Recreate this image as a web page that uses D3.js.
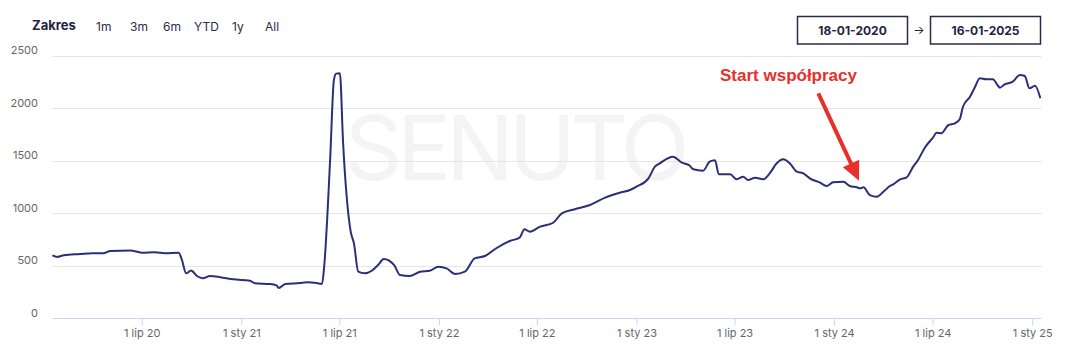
<!DOCTYPE html>
<html>
<head>
<meta charset="utf-8">
<script src="https://cdn.jsdelivr.net/npm/d3@7"></script>
<style>
  body { margin: 0; background: #fff; }
  svg { display: block; font-family: Inter, "Noto Sans", sans-serif; }
</style>
</head>
<body>
<svg width="1080" height="353"></svg>
<script>
// visibility readings, roughly weekly/biweekly
const dates = [
  '2020-01-18', '2020-01-27', '2020-02-08', '2020-03-09', '2020-03-31', '2020-04-21',
  '2020-05-04', '2020-06-10', '2020-07-01', '2020-07-25', '2020-08-13', '2020-09-07',
  '2020-09-13', '2020-09-21', '2020-09-30', '2020-10-11', '2020-10-22', '2020-11-04',
  '2020-11-23', '2020-12-17', '2021-01-17', '2021-01-26', '2021-02-23', '2021-03-07',
  '2021-03-11', '2021-03-23', '2021-04-19', '2021-05-02', '2021-05-26', '2021-05-30',
  '2021-06-03', '2021-06-14', '2021-06-21', '2021-06-25', '2021-07-02', '2021-07-08',
  '2021-07-22', '2021-07-28', '2021-08-05', '2021-08-17', '2021-08-30', '2021-09-11',
  '2021-09-21', '2021-10-10', '2021-10-21', '2021-11-08', '2021-11-27', '2021-12-15',
  '2021-12-31', '2022-01-15', '2022-01-31', '2022-02-18', '2022-03-08', '2022-03-27',
  '2022-04-17', '2022-05-12', '2022-05-30', '2022-06-08', '2022-06-18', '2022-07-07',
  '2022-07-31', '2022-08-16', '2022-09-09', '2022-10-07', '2022-11-04', '2022-12-01',
  '2022-12-20', '2023-01-01', '2023-01-23', '2023-02-04', '2023-02-13', '2023-03-09',
  '2023-03-26', '2023-04-09', '2023-04-16', '2023-05-04', '2023-05-16', '2023-05-26',
  '2023-06-02', '2023-06-23', '2023-07-05', '2023-07-17', '2023-07-26', '2023-08-08',
  '2023-08-23', '2023-09-04', '2023-09-17', '2023-09-29', '2023-10-11', '2023-10-24',
  '2023-11-05', '2023-11-17', '2023-12-06', '2023-12-18', '2023-12-30', '2024-01-18',
  '2024-01-30', '2024-02-12', '2024-02-18', '2024-02-24', '2024-03-07', '2024-03-20',
  '2024-04-01', '2024-04-13', '2024-04-19', '2024-05-02', '2024-05-14', '2024-05-26',
  '2024-06-04', '2024-06-17', '2024-07-02', '2024-07-08', '2024-07-17', '2024-07-30',
  '2024-08-11', '2024-08-20', '2024-08-26', '2024-09-08', '2024-09-17', '2024-09-26',
  '2024-10-08', '2024-10-20', '2024-10-30', '2024-11-02', '2024-11-11', '2024-11-26',
  '2024-12-09', '2024-12-18', '2024-12-27', '2025-01-06', '2025-01-16'
];
const values = [
  600, 585, 600, 612, 620, 619,
  642, 646, 625, 629, 620, 625,
  560, 428, 455, 403, 381, 403,
  392, 371, 358, 333, 327, 314,
  289, 327, 336, 343, 330, 327,
  492, 1508, 2270, 2330, 2335, 1667,
  825, 714, 444, 428, 453, 510,
  565, 508, 412, 403, 444, 453,
  492, 476, 422, 444, 571, 593,
  667, 736, 768, 848, 825, 873,
  910, 1000, 1038, 1079, 1149, 1196,
  1222, 1253, 1333, 1444, 1476, 1539,
  1482, 1455, 1419, 1406, 1491, 1505,
  1371, 1371, 1324, 1349, 1317, 1339,
  1324, 1381, 1476, 1514, 1476, 1396,
  1381, 1333, 1292, 1260, 1295, 1301,
  1260, 1248, 1238, 1248, 1174, 1158,
  1206, 1260, 1276, 1324, 1343, 1444,
  1508, 1629, 1724, 1768, 1762, 1841,
  1857, 1895, 2015, 2110, 2200, 2286,
  2276, 2276, 2212, 2196, 2228, 2254,
  2317, 2308, 2190, 2215, 2095
];
const yTicks = [0, 500, 1000, 1500, 2000, 2500];
const xTickDates = ['2020-07-01', '2021-01-01', '2021-07-01', '2022-01-01', '2022-07-01',
  '2023-01-01', '2023-07-01', '2024-01-01', '2024-07-01', '2025-01-01'];
const monthNames = ['sty', 'lut', 'mar', 'kwi', 'maj', 'cze', 'lip', 'sie', 'wrz', 'paź', 'lis', 'gru'];
const rangeButtons = ['1m', '3m', '6m', 'YTD', '1y', 'All'];
const rangeFrom = '18-01-2020';
const rangeTo = '16-01-2025';
const annotation = { label: 'Start współpracy', date: '2024-02-16', value: 1310 };

const parse = d3.timeParse('%Y-%m-%d');
const data = dates.map((d, i) => ({ date: parse(d), value: values[i] }));

const svg = d3.select('svg');
const margin = { left: 52.4, right: 39.6, top: 55.8, bottom: 34.7 };
const width = 1080, height = 353;

const x = d3.scaleTime()
  .domain([parse('2020-01-18'), parse('2025-01-16')])
  .range([margin.left, width - margin.right]);
const y = d3.scaleLinear()
  .domain([0, 2500])
  .range([height - margin.bottom, margin.top]);

// watermark
svg.append('text')
  .attr('x', 517).attr('y', 180)
  .attr('text-anchor', 'middle')
  .attr('font-size', 90)
  .attr('font-weight', 400)
  .attr('fill', '#f4f4f6')
  .attr('textLength', 345)
  .text('SENUTO');

// grid
svg.append('g')
  .selectAll('line')
  .data(yTicks.filter(d => d > 0))
  .enter()
  .append('line')
  .attr('x1', margin.left)
  .attr('x2', width - margin.right + 1)
  .attr('y1', d => Math.round(y(d)) + 0.5)
  .attr('y2', d => Math.round(y(d)) + 0.5)
  .attr('stroke', '#e6e6e6');

// y labels
svg.append('g')
  .selectAll('text')
  .data(yTicks)
  .enter()
  .append('text')
  .attr('x', 38)
  .attr('y', d => y(d) - 1.5)
  .attr('text-anchor', 'end')
  .attr('font-size', 11)
  .attr('fill', '#666')
  .text(d => d);

// x axis
const xAxis = d3.axisBottom(x)
  .tickValues(xTickDates.map(parse))
  .tickSize(7)
  .tickPadding(4)
  .tickFormat(d => '1 ' + monthNames[d.getMonth()] + ' ' + String(d.getFullYear()).slice(2));

const gx = svg.append('g')
  .attr('transform', `translate(0,${Math.round(y(0)) + 0.5})`)
  .call(xAxis);
gx.select('.domain').attr('stroke', '#ccd6eb').attr('d', `M${margin.left},0H${width - margin.right + 1}`);
gx.selectAll('.tick line').attr('stroke', '#ccd6eb');
gx.selectAll('.tick text')
  .attr('font-size', 11)
  .attr('fill', '#666')
  .attr('font-family', 'Inter, "Noto Sans", sans-serif');

// line
const line = d3.line()
  .x(d => x(d.date))
  .y(d => y(d.value))
  .curve(d3.curveMonotoneX);

svg.append('path')
  .datum(data)
  .attr('fill', 'none')
  .attr('stroke', '#2b2f7a')
  .attr('stroke-width', 2)
  .attr('stroke-linejoin', 'round')
  .attr('d', line);

// header: range selector
svg.append('text')
  .attr('x', 32).attr('y', 30)
  .attr('font-size', 13)
  .attr('font-weight', 700)
  .attr('fill', '#25233f')
  .text('Zakres');

const btnX = [96, 130, 163, 194, 232, 265];
svg.append('g')
  .selectAll('text')
  .data(rangeButtons)
  .enter()
  .append('text')
  .attr('x', (d, i) => btnX[i])
  .attr('y', 31)
  .attr('font-size', 12)
  .attr('fill', '#2a2a45')
  .text(d => d);

// date inputs
const boxes = [{ x: 797.5, label: rangeFrom }, { x: 930.5, label: rangeTo }];
const box = svg.append('g').selectAll('g').data(boxes).enter().append('g');
box.append('rect')
  .attr('x', d => d.x).attr('y', 16.5)
  .attr('width', 110).attr('height', 27.5)
  .attr('fill', '#fff')
  .attr('stroke', '#2b2b45')
  .attr('stroke-width', 1.5);
box.append('text')
  .attr('x', d => d.x + 55).attr('y', 35)
  .attr('text-anchor', 'middle')
  .attr('font-size', 12)
  .attr('font-weight', 700)
  .attr('fill', '#25233f')
  .text(d => d.label);
svg.append('text')
  .attr('x', 919).attr('y', 34)
  .attr('text-anchor', 'middle')
  .attr('font-size', 12)
  .attr('fill', '#25233f')
  .text('→');

// annotation
const tip = [x(parse(annotation.date)), y(annotation.value)];
const start = [818.3, 93.3];
const dx = tip[0] - start[0], dy = tip[1] - start[1];
const len = Math.sqrt(dx * dx + dy * dy);
const ux = dx / len, uy = dy / len;
const headLen = 19, headW = 9;
const base = [tip[0] - ux * headLen, tip[1] - uy * headLen];

svg.append('line')
  .attr('x1', start[0]).attr('y1', start[1])
  .attr('x2', base[0] + ux * 2).attr('y2', base[1] + uy * 2)
  .attr('stroke', '#e8302a')
  .attr('stroke-width', 4);
svg.append('path')
  .attr('d', `M${tip[0]},${tip[1]}L${base[0] - uy * headW},${base[1] + ux * headW}L${base[0] + uy * headW},${base[1] - ux * headW}Z`)
  .attr('fill', '#e8302a');

svg.append('text')
  .attr('x', 720).attr('y', 81)
  .attr('font-family', '"Liberation Sans", Arial, sans-serif')
  .attr('font-size', 17)
  .attr('font-weight', 700)
  .attr('fill', '#e8302a')
  .text(annotation.label);
</script>
</body>
</html>
